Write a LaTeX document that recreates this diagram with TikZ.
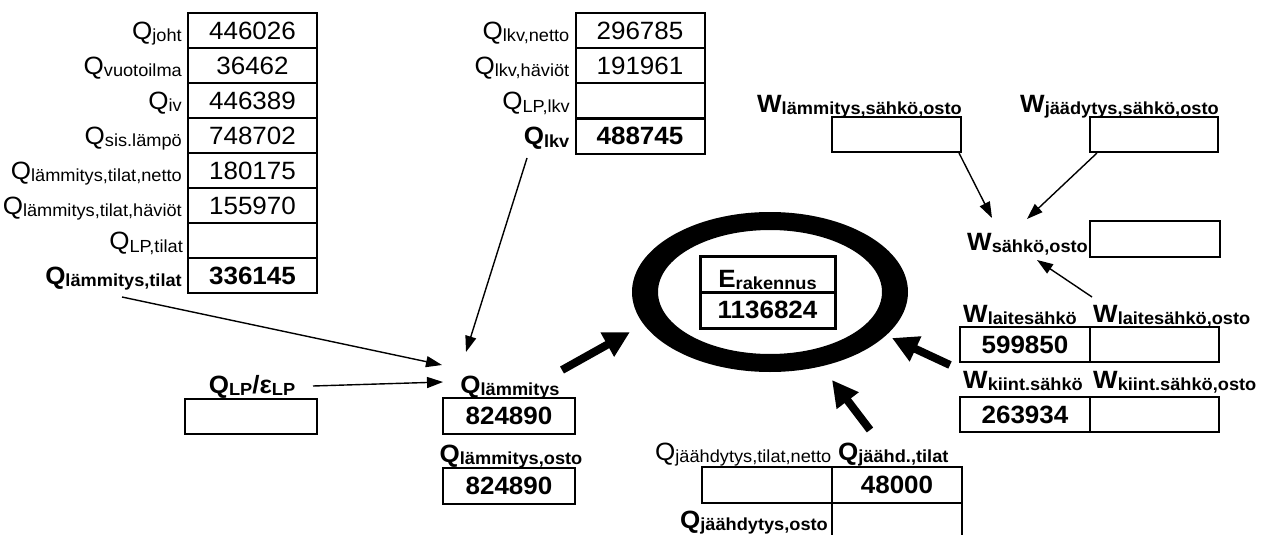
\documentclass[tikz,border=0pt]{standalone}
\usepackage{fontspec}
\setmainfont{Liberation Sans}[FakeStretch=1.04]
\usetikzlibrary{arrows.meta}
\newcommand\lb[2]{#1\raisebox{-2.5pt}{\fontsize{17.5}{18}\selectfont #2}}
\begin{document}
\begin{tikzpicture}[x=1pt,y=-1pt,
 cell/.style={draw, line width=2pt, minimum width=129pt, minimum height=35pt, inner sep=0pt,
   font=\fontsize{25}{27}\selectfont, text height=17.9pt, text depth=0pt},
 bcell/.style={cell, font=\fontsize{25}{27}\selectfont\bfseries},
 lab/.style={inner sep=0pt, font=\fontsize{25}{27}\selectfont},
 blab/.style={lab, font=\fontsize{25}{27}\selectfont\bfseries},
 thinarrow/.style={line width=1.4pt, -{Triangle[length=16pt,width=11pt]}},
 fatarrow/.style={line width=8pt, -{Triangle[length=26pt,width=26pt]}},
]
\clip (0,0) rectangle (1264,535);
\fill[white] (0,0) rectangle (1264,535);

% ---- left table
\node[cell]  (j1) at (252.5,30.5)  {446026};
\node[cell]  (j2) at (252.5,65.5)  {36462};
\node[cell]  (j3) at (252.5,100.5) {446389};
\node[cell]  (j4) at (252.5,135.5) {748702};
\node[cell]  (j5) at (252.5,170.5) {180175};
\node[cell]  (j6) at (252.5,205.5) {155970};
\node[cell]  (j7) at (252.5,240.5) {};
\node[bcell] (j8) at (252.5,275.5) {336145};
\node[lab, anchor=base east]  (l1) at ([xshift=-5pt]j1.base west) {\lb{Q}{joht}};
\node[lab, anchor=base east]  (l2) at ([xshift=-5pt]j2.base west) {\lb{Q}{vuotoilma}};
\node[lab, anchor=base east]  (l3) at ([xshift=-5pt]j3.base west) {\lb{Q}{iv}};
\node[lab, anchor=base east]  (l4) at ([xshift=-5pt]j4.base west) {\lb{Q}{sis.lämpö}};
\node[lab, anchor=base east]  (l5) at ([xshift=-5pt]j5.base west) {\lb{Q}{lämmitys,tilat,netto}};
\node[lab, anchor=base east]  (l6) at ([xshift=-5pt]j6.base west) {\lb{Q}{lämmitys,tilat,häviöt}};
\node[lab, anchor=base east]  (l7) at (183,249.5) {\lb{Q}{LP,tilat}};
\node[blab, anchor=base east] (l8) at ([xshift=-5pt]j8.base west) {\lb{Q}{lämmitys,tilat}};

% ---- top middle table
\node[cell]  (k1) at (640,30.5)  {296785};
\node[cell]  (k2) at (640,65.5)  {191961};
\node[cell]  (k3) at (640,100.5) {};
\node[bcell] (k4) at (640,136)   {488745};
\node[lab, anchor=base east]  (m1) at ([xshift=-5pt]k1.base west) {\lb{Q}{lkv,netto}};
\node[lab, anchor=base east]  (m2) at ([xshift=-5pt]k2.base west) {\lb{Q}{lkv,häviöt}};
\node[lab, anchor=base east]  (m3) at (570,109.5) {\lb{Q}{LP,lkv}};
\node[blab, anchor=base east] (m4) at ([xshift=-5pt]k4.base west) {\lb{Q}{lkv}};

% ---- Q_LP / eps_LP
\node[cell, minimum width=132pt] (lp) at (251,416.5) {};
\node[blab, anchor=base] (lplab) at (252,393) {\lb{Q}{LP}/\lb{ε}{LP}};

% ---- Q_lammitys
\node[bcell, minimum width=132pt, minimum height=36pt] (ql) at (509,416) {824890};
\node[blab, anchor=base] (qllab) at (510,393) {\lb{Q}{lämmitys}};
\node[bcell, minimum width=132pt, minimum height=36pt] (qo) at (509,486) {824890};
\node[blab, anchor=base] (qolab) at (511,462) {\lb{Q}{lämmitys,osto}};

% ---- central ellipse
\fill[black, even odd rule] (770,292) ellipse [x radius=138, y radius=80]
                            (770,292) ellipse [x radius=112, y radius=62];
\node[cell, line width=3pt, minimum width=135pt, minimum height=36pt] (e1) at (767.5,274) {};
\node[bcell, line width=3pt, minimum width=135pt, minimum height=36pt] (e2) at (767.5,310) {1136824};
\node[blab, anchor=base] (elab) at (767.5,287) {\lb{E}{rakennus}};

% ---- W section
\node[cell] (w1) at (896.5,134.5) {};
\node[cell, minimum width=128pt] (w2) at (1154,134.5) {};
\node[blab, anchor=base west] (w1lab) at (757,112) {\lb{W}{lämmitys,sähkö,osto}};
\node[blab, anchor=base west] (w2lab) at (1020,112) {\lb{W}{jäädytys,sähkö,osto}};
\node[cell, minimum width=130pt, minimum height=36pt] (ws) at (1155,239) {};
\node[blab, anchor=base west] (wslab) at (967,250) {\lb{W}{sähkö,osto}};

\node[bcell, minimum width=130pt] (wl1) at (1025,344.5) {599850};
\node[cell] (wl2) at (1154.5,344.5) {};
\node[blab, anchor=base west] (wl1lab) at (963,322) {\lb{W}{laitesähkö}};
\node[blab, anchor=base west] (wl2lab) at (1093,322) {\lb{W}{laitesähkö,osto}};

\node[bcell, minimum width=130pt] (wk1) at (1025,414.5) {263934};
\node[cell] (wk2) at (1154.5,414.5) {};
\node[blab, anchor=base west] (wk1lab) at (963,388) {\lb{W}{kiint.sähkö}};
\node[blab, anchor=base west] (wk2lab) at (1093,388) {\lb{W}{kiint.sähkö,osto}};

% ---- cooling
\node[cell, minimum width=130pt, minimum height=36pt] (c1) at (767,485) {};
\node[bcell, minimum width=130pt, minimum height=36pt] (c2) at (897,485) {48000};
\node[cell, minimum width=130pt, minimum height=42pt] (c3) at (897,524) {};
\node[lab, anchor=base west]  (c1lab) at (655,460) {\lb{Q}{jäähdytys,tilat,netto}};
\node[blab, anchor=base west] (c2lab) at (838,460) {\lb{Q}{jäähd.,tilat}};
\node[blab, anchor=base east] (c3lab) at (828,528) {\lb{Q}{jäähdytys,osto}};

% ---- connector end points
\coordinate (a1s) at (122,297);  \coordinate (a1e) at (442,365);
\coordinate (a2s) at (527,158);  \coordinate (a2e) at (466,352);
\coordinate (a3s) at (313,386);  \coordinate (a3e) at (443,382);
\coordinate (a4e) at (992,218);
\coordinate (a5e) at (1027,219);
\coordinate (a6s) at (1092,297); \coordinate (a6e) at (1037,260);
\coordinate (f1s) at (562,370);  \coordinate (f1e) at (630,332);
\coordinate (f2s) at (950,365);  \coordinate (f2e) at (892,338);
\coordinate (f3s) at (870,430);  \coordinate (f3e) at (832,380);

\draw[thinarrow] (a1s) -- (a1e);
\draw[thinarrow] (a2s) -- (a2e);
\draw[thinarrow] (a3s) -- (a3e);
\draw[thinarrow] ([xshift=-3pt]w1.south east) -- (a4e);
\draw[thinarrow] ([xshift=8pt]w2.south west) -- (a5e);
\draw[thinarrow] (a6s) -- (a6e);

\draw[fatarrow] (f1s) -- (f1e);
\draw[fatarrow] (f2s) -- (f2e);
\draw[fatarrow] (f3s) -- (f3e);
\end{tikzpicture}
\end{document}
